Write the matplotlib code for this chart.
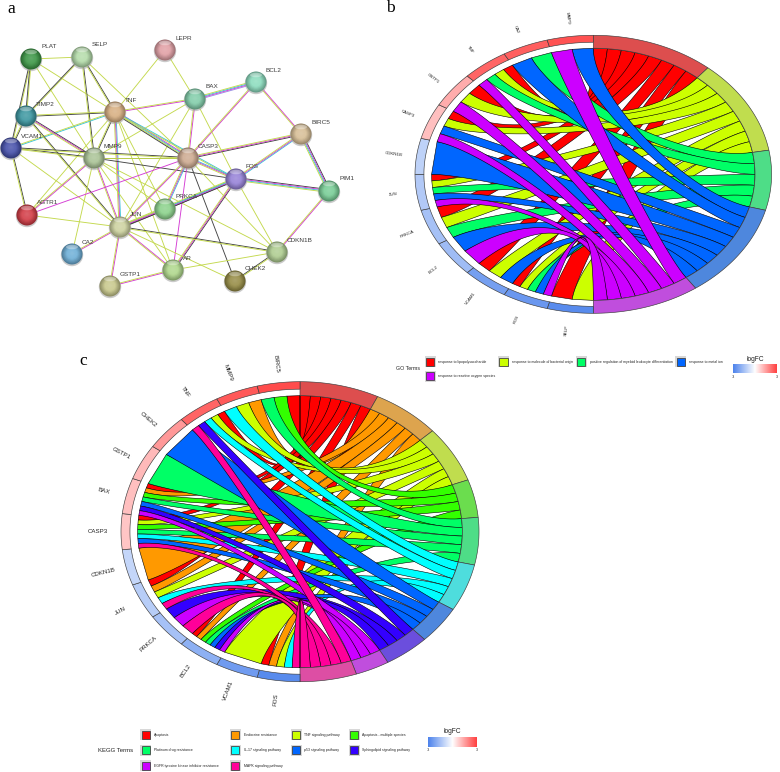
import numpy as np
import matplotlib
matplotlib.use('Agg')
import matplotlib.pyplot as plt
from matplotlib.patches import Circle, Rectangle, Polygon, Ellipse
from matplotlib.colors import LinearSegmentedColormap, to_rgb

plt.rcParams['font.family'] = ['Liberation Sans', 'DejaVu Sans']

# panel a, network
node_names = ['PLAT', 'SELP', 'LEPR', 'BCL2', 'BAX', 'TNF', 'TIMP2', 'BIRC5', 'VCAM1', 'MMP9', 'CASP3',
              'FOS', 'PIM1', 'AGTR1', 'PRKCA', 'JUN', 'CA2', 'CDKN1B', 'AR', 'GSTP1', 'CHEK2']
node_x = [31, 82, 165, 256, 195, 115, 26, 301, 11, 94, 188, 236, 329, 27, 165, 120, 72, 277, 173, 110, 235]
node_y = [59, 57, 50, 82, 99, 112, 116, 134, 148, 158, 158, 179, 191, 215, 209, 227, 254, 252, 270, 286, 281]
node_cols = ['#3c9646', '#b4dcaa', '#e1a0a5', '#8cdcbe', '#82cdaa', '#d7af82', '#3c96a0', '#d7be96',
             '#4650aa', '#aac396', '#cdaa91', '#9682d7', '#78cd96', '#d23c46', '#8cd28c', '#cdd2a0',
             '#6eafd7', '#afcd91', '#afd78c', '#c8c88c', '#968c46']
edges = [('PLAT', 'SELP', 'y'), ('PLAT', 'TIMP2', 'yk'), ('PLAT', 'VCAM1', 'yk'), ('PLAT', 'TNF', 'y'),
         ('PLAT', 'MMP9', 'y'), ('SELP', 'TIMP2', 'yk'), ('SELP', 'TNF', 'ky'), ('SELP', 'MMP9', 'ky'),
         ('SELP', 'CASP3', 'y'), ('LEPR', 'TNF', 'y'), ('LEPR', 'BAX', 'y'), ('BCL2', 'BAX', 'bmcy'),
         ('BCL2', 'CASP3', 'my'), ('BCL2', 'BIRC5', 'my'), ('BAX', 'TNF', 'my'), ('BAX', 'CASP3', 'my'),
         ('BAX', 'MMP9', 'y'), ('BAX', 'FOS', 'y'), ('BAX', 'JUN', 'y'), ('TNF', 'TIMP2', 'ky'),
         ('TNF', 'VCAM1', 'cy'), ('TNF', 'MMP9', 'ky'), ('TNF', 'CASP3', 'mcyk'), ('TNF', 'FOS', 'cy'),
         ('TNF', 'JUN', 'cmy'), ('TNF', 'AGTR1', 'y'), ('TNF', 'PRKCA', 'y'), ('TNF', 'AR', 'y'),
         ('TIMP2', 'VCAM1', 'ky'), ('TIMP2', 'MMP9', 'kmy'), ('TIMP2', 'JUN', 'ky'), ('BIRC5', 'CASP3', 'kmy'),
         ('BIRC5', 'FOS', 'cmy'), ('BIRC5', 'PIM1', 'kmcy'), ('VCAM1', 'MMP9', 'ky'), ('VCAM1', 'CASP3', 'ky'),
         ('VCAM1', 'AGTR1', 'ky'), ('VCAM1', 'JUN', 'y'), ('MMP9', 'CASP3', 'ky'), ('MMP9', 'FOS', 'k'),
         ('MMP9', 'AGTR1', 'my'), ('MMP9', 'JUN', 'my'), ('MMP9', 'PRKCA', 'y'), ('MMP9', 'CA2', 'y'),
         ('MMP9', 'AR', 'y'), ('MMP9', 'CDKN1B', 'y'), ('CASP3', 'FOS', 'cmy'), ('CASP3', 'AGTR1', 'm'),
         ('CASP3', 'PRKCA', 'cmy'), ('CASP3', 'JUN', 'my'), ('CASP3', 'AR', 'm'), ('CASP3', 'CHEK2', 'k'),
         ('CASP3', 'CDKN1B', 'y'), ('FOS', 'PIM1', 'kmcy'), ('FOS', 'PRKCA', 'kcy'), ('FOS', 'JUN', 'kmcy'),
         ('FOS', 'AR', 'kmy'), ('FOS', 'CDKN1B', 'y'), ('PIM1', 'CDKN1B', 'my'), ('AGTR1', 'JUN', 'y'),
         ('PRKCA', 'JUN', 'kmy'), ('JUN', 'CA2', 'my'), ('JUN', 'GSTP1', 'my'), ('JUN', 'AR', 'my'),
         ('JUN', 'CDKN1B', 'ky'), ('JUN', 'CHEK2', 'y'), ('AR', 'GSTP1', 'my'), ('AR', 'CDKN1B', 'y'),
         ('CHEK2', 'CDKN1B', 'ky')]
edge_cols = {'y': '#c4d94e', 'k': '#444444', 'm': '#d43cd4', 'c': '#3cc4d8', 'b': '#9a90e4'}

# panel b, GO terms. genes run clockwise from the bottom
go_genes = ['SELP', 'FOS', 'VCAM1', 'BCL2', 'PRKCA', 'JUN', 'CDKN1B', 'CASP3', 'GSTP1', 'TNF', 'CA2', 'MMP9']
go_logfc = [-2.8, -2.5, -2.3, -1.6, -1.5, -1.3, -1.1, 1.0, 1.3, 2.4, 2.5, 2.7]
go_terms = ['response to lipopolysaccharide', 'response to molecule of bacterial origin',
            'positive regulation of myeloid leukocyte differentiation', 'response to metal ion',
            'response to reactive oxygen species']
go_cols = ['#FF0000', '#CCFF00', '#00FF66', '#0066FF', '#CC00FF']
go_members = [['SELP', 'FOS', 'VCAM1', 'PRKCA', 'JUN', 'CASP3', 'GSTP1', 'TNF'],
              ['SELP', 'FOS', 'VCAM1', 'PRKCA', 'JUN', 'CASP3', 'GSTP1', 'TNF'],
              ['FOS', 'PRKCA', 'JUN', 'TNF', 'CA2'],
              ['FOS', 'VCAM1', 'BCL2', 'JUN', 'CDKN1B', 'CASP3', 'CA2', 'MMP9'],
              ['FOS', 'BCL2', 'JUN', 'CASP3', 'GSTP1', 'TNF', 'MMP9']]

# panel c, KEGG terms
kegg_genes = ['FOS', 'VCAM1', 'BCL2', 'PRKCA', 'JUN', 'CDKN1B', 'CASP3', 'BAX', 'GSTP1', 'CHEK2', 'TNF', 'MMP9', 'BIRC5']
kegg_logfc = [-2.8, -2.4, -1.9, -1.5, -1.2, -1.0, 0.9, 1.0, 1.1, 1.6, 2.4, 2.6, 2.8]
kegg_terms = ['Apoptosis', 'Endocrine resistance', 'TNF signaling pathway', 'Apoptosis - multiple species',
              'Platinum drug resistance', 'IL-17 signaling pathway', 'p53 signaling pathway',
              'Sphingolipid signaling pathway', 'EGFR tyrosine kinase inhibitor resistance', 'MAPK signaling pathway']
kegg_cols = ['#FF0000', '#FF9900', '#CCFF00', '#33FF00', '#00FF66', '#00FFFF', '#0066FF', '#3300FF', '#CC00FF', '#FF0099']
kegg_members = [['FOS', 'BCL2', 'JUN', 'CASP3', 'BAX', 'TNF', 'BIRC5'],
                ['FOS', 'BCL2', 'JUN', 'CDKN1B', 'BAX', 'MMP9'],
                ['FOS', 'VCAM1', 'JUN', 'CASP3', 'TNF', 'MMP9'],
                ['BCL2', 'CASP3', 'BAX', 'BIRC5'],
                ['BCL2', 'CASP3', 'BAX', 'GSTP1', 'BIRC5'],
                ['FOS', 'JUN', 'CASP3', 'TNF', 'MMP9'],
                ['BCL2', 'CASP3', 'BAX', 'CHEK2'],
                ['BCL2', 'PRKCA', 'BAX', 'TNF'],
                ['BCL2', 'PRKCA', 'BAX'],
                ['FOS', 'PRKCA', 'JUN', 'CASP3', 'TNF']]

fc_cmap = LinearSegmentedColormap.from_list('fc', ['#4d83ec', '#ffffff', '#ff4040'])

fig = plt.figure(figsize=(7.8, 7.72), dpi=100)
ax = fig.add_axes([0, 0, 1, 1])
ax.axis('off')


def ell(cx, cy, rx, ry, t, r=1.0):
    # t in degrees, clockwise from the top
    t = np.radians(t)
    return np.array([cx + rx * r * np.sin(t), cy - ry * r * np.cos(t)])


def ring(cx, cy, rx, ry, t0, t1, r0, r1, col):
    ts = np.linspace(t0, t1, 40)
    pts = [ell(cx, cy, rx, ry, t, r1) for t in ts] + [ell(cx, cy, rx, ry, t, r0) for t in ts[::-1]]
    ax.add_patch(Polygon(pts, closed=True, fc=col, ec='#3c3c3c', lw=0.45, zorder=3))


def ribbon_bulge(t0, t1):
    # no bulge for neighbouring ends (curve bends through the centre), more for opposite ends so the band stays wide
    half = np.radians((t1 - t0) / 2)
    return 1.2 * np.sin(half) ** 2


def edge(cx, cy, p0, p1, d):
    ts = np.linspace(0, 1, 60)
    w0 = ((1 - ts) ** 2 * (1 + d * ts))[:, None]
    w1 = (ts ** 2 * (1 + d * (1 - ts)))[:, None]
    c = np.array([cx, cy])
    return c + w0 * (p0 - c) + w1 * (p1 - c)


def chord(cx, cy, rx, ry, genes, logfc, cols, members, size):
    r_in = 0.907
    r_gap = 0.95
    n_units = sum(len(m) for m in members)
    du = 180.0 / n_units
    dg = 180.0 / len(genes)
    fill = {g: 0 for g in genes}
    counts = {g: sum(g in m for m in members) for g in genes}
    a = 0.0
    for col, mem in zip(cols, members):
        start = a
        # the term's chords go from the top gene downward
        for g in sorted(mem, key=lambda s: -genes.index(s)):
            i = genes.index(g)
            w = dg / counts[g]
            # terms stack counter-clockwise inside a gene, first term at the top end
            hi = 180 + (i + 1) * dg - fill[g] * w
            lo = hi - w
            fill[g] += 1
            d = ribbon_bulge(a + du / 2, (hi + lo) / 2)
            e1 = edge(cx, cy, ell(cx, cy, rx, ry, a, r_in), ell(cx, cy, rx, ry, hi, r_in), d)
            e2 = edge(cx, cy, ell(cx, cy, rx, ry, a + du, r_in), ell(cx, cy, rx, ry, lo, r_in), d)
            ax.add_patch(Polygon(np.vstack([e1, e2[::-1]]), closed=True, fc=col, ec='black', lw=0.4, zorder=2))
            a += du
        rgb = np.array(to_rgb(col))
        ring(cx, cy, rx, ry, start, a, r_in, 1.0, tuple(78 / 255 + 0.56 * rgb))
    for i, (g, v) in enumerate(zip(genes, logfc)):
        ring(cx, cy, rx, ry, 180 + i * dg, 180 + (i + 1) * dg, r_gap, 1.0, fc_cmap((v + 3) / 6))
        mid = 180 + (i + 0.5) * dg
        x, y = ell(cx, cy, rx, ry, mid, 1.13)
        ax.text(x, y, g, fontsize=size, color='#222222', rotation=270 - mid, rotation_mode='anchor',
                ha='center', va='center')


def legend(title, title_xy, terms, cols, col_x, row_y, text_size, title_size):
    ax.text(title_xy[0], title_xy[1], title, fontsize=title_size, color='#222222', ha='center', va='center')
    for k, (t, col) in enumerate(zip(terms, cols)):
        x = col_x[k % len(col_x)]
        y = row_y[k // len(col_x)]
        ax.add_patch(Rectangle((x - 5.5, y - 5.5), 11, 11, fc='#d8d8d8', ec='none', zorder=2))
        ax.add_patch(Rectangle((x - 4.2, y - 4.2), 8.4, 8.4, fc=col, ec='#444444', lw=0.6, zorder=3))
        ax.text(x + 8.5, y, t, fontsize=text_size, color='#222222', ha='left', va='center')


def colorbar(x0, x1, y0, y1, title_y, tick_y):
    grad = np.linspace(0, 1, 200).reshape(1, -1)
    ax.imshow(grad, cmap=fc_cmap, extent=(x0, x1, y1, y0), aspect='auto', zorder=2)
    ax.text((x0 + x1) / 2, title_y, 'logFC', fontsize=4.8, color='#222222', ha='center', va='center')
    ax.text(x0, tick_y, '-3', fontsize=2.6, color='#222222', ha='center', va='center')
    ax.text(x1, tick_y, '3', fontsize=2.6, color='#222222', ha='center', va='center')


# network edges first, nodes on top
pos = {n: np.array([x, y], float) for n, x, y in zip(node_names, node_x, node_y)}
for a_name, b_name, kinds in edges:
    p, q = pos[a_name], pos[b_name]
    d = (q - p) / np.hypot(*(q - p))
    nrm = np.array([-d[1], d[0]])
    for j, k in enumerate(kinds):
        off = (j - (len(kinds) - 1) / 2) * 0.95
        ax.plot([p[0] + nrm[0] * off, q[0] + nrm[0] * off], [p[1] + nrm[1] * off, q[1] + nrm[1] * off],
                color=edge_cols[k], lw=0.65, zorder=1, solid_capstyle='butt')

for n, col in zip(node_names, node_cols):
    x, y = pos[n]
    base = np.array(to_rgb(col))
    ax.add_patch(Circle((x, y + 1), 11.2, fc='#a8a8a8', ec='none', alpha=0.6, zorder=4))
    for f in np.linspace(1, 0.1, 10):
        mix = min(1.0, (1 - f) * 2.2)
        shade = base * (0.72 + 0.28 * mix) + (1 - base) * 0.2 * (1 - f)
        ax.add_patch(Circle((x, y - 1.0 * (1 - f)), 10.5 * f, fc=np.clip(shade, 0, 1), ec='none', zorder=5))
    ax.add_patch(Ellipse((x, y - 7), 12, 4.5, fc='white', ec='none', alpha=0.35, zorder=6))
    ax.text(x + 10, y - 12, n, fontsize=4.6, color='#3a3a3a', ha='left', va='center', zorder=7)

chord(593.3, 174.3, 178.3, 139, go_genes, go_logfc, go_cols, go_members, 3.2)
chord(300, 531.7, 179, 150, kegg_genes, kegg_logfc, kegg_cols, kegg_members, 4.4)

legend('GO Terms', (408, 369), go_terms, go_cols, [430, 503.3, 581.3, 680.7], [361.7, 376], 2.5, 3.8)
colorbar(733, 776.7, 364, 372.7, 359.3, 377)
legend('KEGG Terms', (116, 750), kegg_terms, kegg_cols, [145.7, 235, 296, 354], [734.7, 750, 765.7], 2.5, 4.3)
colorbar(428, 477, 736.7, 746.7, 731.7, 750)

for lab, x, y in [('a', 11.5, 9), ('b', 390, 8), ('c', 83, 361)]:
    ax.text(x, y, lab, fontsize=12.5, family=['Liberation Serif', 'DejaVu Serif'], color='black', ha='center', va='center')

ax.set_xlim(0, 780)
ax.set_ylim(772, 0)
fig.savefig('out.png', dpi=100)
